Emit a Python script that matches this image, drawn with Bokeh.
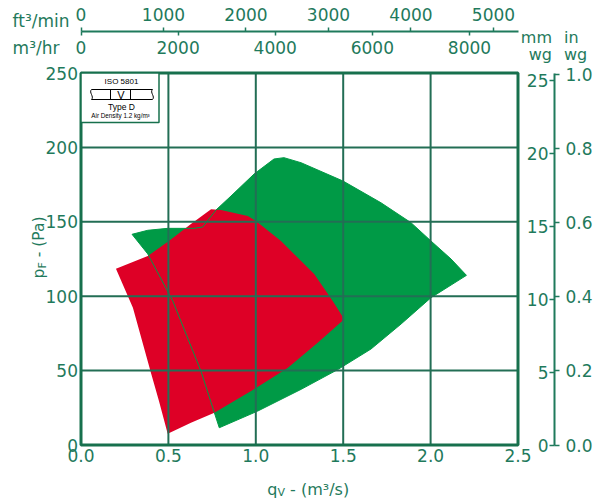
import math
from bokeh.plotting import figure
from bokeh.models import (LinearAxis, Range1d, FixedTicker, Label,
                          NumeralTickFormatter)
from bokeh.core.properties import value
from bokeh.embed import file_html
from bokeh.resources import INLINE

# ---------------- data ----------------
# red duty area: q_v in m3/s, p_F in Pa
red_q = [0.200, 0.382, 0.503, 0.629, 0.744, 0.801, 0.954, 1.001, 1.144, 1.335,
         1.440, 1.506, 1.354, 1.182, 0.973, 0.763, 0.629, 0.496, 0.446, 0.400, 0.297]
red_p = [118.5, 127.0, 137.1, 148.5, 158.4, 157.9, 153.9, 150.5, 137.1, 114.7,
         96.8, 84.5, 68.8, 51.7, 36.3, 21.7, 15.0, 7.6, 29.6, 48.6, 92.3]

# green duty area
green_q = [0.292, 0.382, 0.496, 0.572, 0.646, 0.696, 0.772, 0.858, 0.990, 1.104,
           1.161, 1.259, 1.499, 1.716, 1.888, 2.002, 2.117, 2.205, 2.002, 1.831,
           1.659, 1.469, 1.259, 1.011, 0.791, 0.763, 0.686, 0.525, 0.382]
green_p = [141.6, 144.3, 145.6, 145.6, 145.6, 146.5, 157.9, 167.3, 182.1, 192.2,
           193.1, 189.7, 177.4, 162.8, 149.4, 137.1, 125.0, 114.0, 99.0, 81.3,
           64.5, 50.7, 37.4, 22.8, 11.6, 21.7, 49.7, 96.8, 128.4]

qv_ticks = [0.0, 0.5, 1.0, 1.5, 2.0, 2.5]
pf_ticks = [0, 50, 100, 150, 200, 250]
cfm_ticks = [0, 1000, 2000, 3000, 4000, 5000]
m3h_ticks = [0, 2000, 4000, 6000, 8000]
mmwg_ticks = [0, 5, 10, 15, 20, 25]
inwg_ticks = [0.0, 0.2, 0.4, 0.6, 0.8, 1.0]

Q_MAX = 2.5
P_MAX = 250
CFM_PER_M3S = 2118.88
M3H_PER_M3S = 3600.0
PA_PER_MMWG = 9.80665
PA_PER_INWG = 249.089

# ---------------- styles ----------------
FONT = "DejaVu Sans"
SANS = "Liberation Sans"
TEXT = "#1f7a5c"
GRID = "#236e55"
FRAME = "#17704d"
GREEN = "#009a46"
RED = "#de0026"

W, H = 594, 502
# chart box on the canvas: x 80.5..517.5, y 72.5..444.5
X0, Y0 = 80.5, 444.5
SX = 437 / Q_MAX
SY = 372 / P_MAX


def dx(px):
    return (px - X0) / SX


def dy(py):
    return (Y0 - py) / SY


xs, xe = dx(0), dx(W)
ys, ye = dy(H), dy(0)

p = figure(width=W, height=H,
           x_range=Range1d(xs, xe), y_range=Range1d(ys, ye),
           output_backend="svg", toolbar_location=None,
           x_axis_location=None, y_axis_location=None,
           min_border=0, min_border_left=0, min_border_right=0,
           min_border_top=0, min_border_bottom=0,
           background_fill_color="white", border_fill_color="white")
p.outline_line_color = None
p.grid.visible = False

p.extra_x_ranges = {"cfm": Range1d(xs * CFM_PER_M3S, xe * CFM_PER_M3S),
                    "m3h": Range1d(xs * M3H_PER_M3S, xe * M3H_PER_M3S)}
p.extra_y_ranges = {"mmwg": Range1d(ys / PA_PER_MMWG, ye / PA_PER_MMWG),
                    "inwg": Range1d(ys / PA_PER_INWG, ye / PA_PER_INWG)}


def style(ax, size="17px", line=False):
    ax.major_label_text_font = FONT
    ax.major_label_text_font_size = size
    ax.major_label_text_color = TEXT
    ax.axis_line_color = TEXT if line else None
    ax.axis_line_width = 2
    ax.major_tick_line_color = TEXT
    ax.minor_tick_line_color = None
    ax.major_tick_line_width = 1.5
    ax.major_tick_in = 0
    ax.major_tick_out = 0
    ax.minor_tick_in = 0
    ax.minor_tick_out = 0


# ---------------- duty areas ----------------
p.patch(green_q, green_p, fill_color=GREEN, line_color=None)
p.patch(red_q, red_p, fill_color=RED, line_color=None)
p.line(green_q + green_q[:1], green_p + green_p[:1], line_color=GREEN, line_width=1)

# grid lines (on top of the areas)
nq, npf = len(qv_ticks), len(pf_ticks)
p.segment(x0=qv_ticks, y0=[0] * nq, x1=qv_ticks, y1=[P_MAX] * nq,
          line_color=GRID, line_width=2)
p.segment(x0=[0] * npf, y0=pf_ticks, x1=[Q_MAX] * npf, y1=pf_ticks,
          line_color=GRID, line_width=2)
# chart frame
p.quad(left=[0], right=[Q_MAX], bottom=[0], top=[P_MAX],
       fill_color=None, line_color=FRAME, line_width=3)

# ---------------- axes ----------------
# bottom: q_v
xb = LinearAxis(ticker=FixedTicker(ticks=qv_ticks), fixed_location=0,
                formatter=NumeralTickFormatter(format="0.0"))
style(xb)
xb.major_label_standoff = 4
p.add_layout(xb, "below")

# left: p_F
yl = LinearAxis(ticker=FixedTicker(ticks=pf_ticks), fixed_location=0)
style(yl)
yl.major_label_standoff = 3
p.add_layout(yl, "left")

# top: ft3/min above the line, m3/hr below it
Y_LINE = dy(31)
xc = LinearAxis(x_range_name="cfm", ticker=FixedTicker(ticks=cfm_ticks),
                fixed_location=Y_LINE, bounds=(0, Q_MAX * CFM_PER_M3S))
style(xc, line=True)
xc.major_tick_out = 4
xc.major_label_standoff = 7
p.add_layout(xc, "above")

xm = LinearAxis(x_range_name="m3h", ticker=FixedTicker(ticks=m3h_ticks),
                fixed_location=Y_LINE, bounds=(0, Q_MAX * M3H_PER_M3S))
style(xm)
xm.major_tick_out = 4
xm.major_label_standoff = 5
p.add_layout(xm, "below")

# right: mm wg left of the line, in wg right of it
X_LINE = dx(554)
ym = LinearAxis(y_range_name="mmwg", ticker=FixedTicker(ticks=mmwg_ticks),
                fixed_location=X_LINE, bounds=(0, P_MAX / PA_PER_MMWG))
style(ym)
ym.major_tick_out = 5
ym.major_label_standoff = 1
p.add_layout(ym, "left")

yi = LinearAxis(y_range_name="inwg", ticker=FixedTicker(ticks=inwg_ticks),
                fixed_location=X_LINE, bounds=(0, P_MAX / PA_PER_INWG),
                formatter=NumeralTickFormatter(format="0.0"))
style(yi, line=True)
yi.major_tick_out = 5
yi.major_label_standoff = 6
p.add_layout(yi, "right")

# ---------------- ISO box ----------------
p.quad(left=[0], right=[dx(158.5)], top=[P_MAX], bottom=[dy(122)],
       fill_color="white", line_color=FRAME, line_width=1.5)
ty, by = dy(89), dy(99)
xl, xr = dx(91), dx(152)
d1, d2 = dx(110), dx(130)
p.segment(x0=[xl, xl, d1, d2], y0=[ty, by, ty, ty],
          x1=[xr, xr, d1, d2], y1=[ty, by, by, by],
          line_color="black", line_width=1)
wv = 3 / SX
p.bezier(x0=[xl, xr], y0=[ty, ty], x1=[xl, xr], y1=[by, by],
         cx0=[xl - wv, xr - wv], cy0=[dy(92), dy(92)],
         cx1=[xl + wv, xr + wv], cy1=[dy(96), dy(96)],
         line_color="black", line_width=1)
p.text(x=[dx(121)], y=[dy(80.5)], text=["ISO 5801"], text_font=value(SANS),
       text_font_size="8px", text_align="center", text_baseline="middle",
       text_color="black")
p.text(x=[dx(120.5)], y=[dy(94.5)], text=["V"], text_font=value(SANS),
       text_font_size="11px", text_align="center", text_baseline="middle",
       text_color="black")
p.text(x=[dx(121)], y=[dy(106)], text=["Type D"], text_font=value(SANS),
       text_font_size="8.5px", text_align="center", text_baseline="middle",
       text_color="black")
p.text(x=[dx(120)], y=[dy(114.5)], text=["Air Density 1.2 kg/m\u00b3"],
       text_font=value(SANS), text_font_size="6.3px", text_align="center",
       text_baseline="middle", text_color="black")


# ---------------- unit names and titles ----------------
SHIFT = 4.5  # labels render a little below their nominal baseline


def lab(text, px, py, size="17px", align="left", angle=0.0):
    if angle:
        px -= SHIFT
    else:
        py -= SHIFT
    p.add_layout(Label(x=dx(px), y=dy(py), text=text, text_font=FONT,
                       text_font_size=size, text_color=TEXT, text_align=align,
                       text_baseline="alphabetic", angle=angle))


lab("ft\u00b3/min", 40.5, 25, align="center")
lab("m\u00b3/hr", 35.5, 52.3, align="center")
lab("mm", 551.5, 41.5, size="16px", align="right")
lab("wg", 551.5, 58.5, size="16px", align="right")
lab("in", 563.5, 41.5, size="16px")
lab("wg", 563.5, 58.5, size="16px")

# x title: q_V - (m3/s)
lab("q", 266.7, 493.5, size="16px")
lab("V", 277.0, 496.5, size="11px")
lab("- (m\u00b3/s)", 289.6, 493.5, size="16px")

# y title: p_F - (Pa), rotated
up = math.pi / 2
lab("p", 43, 278, size="15.5px", angle=up)
lab("F", 46, 268.1, size="11px", angle=up)
lab("- (Pa)", 43, 256.8, size="15.5px", angle=up)

open("out.html", "w").write(file_html(p, INLINE))
